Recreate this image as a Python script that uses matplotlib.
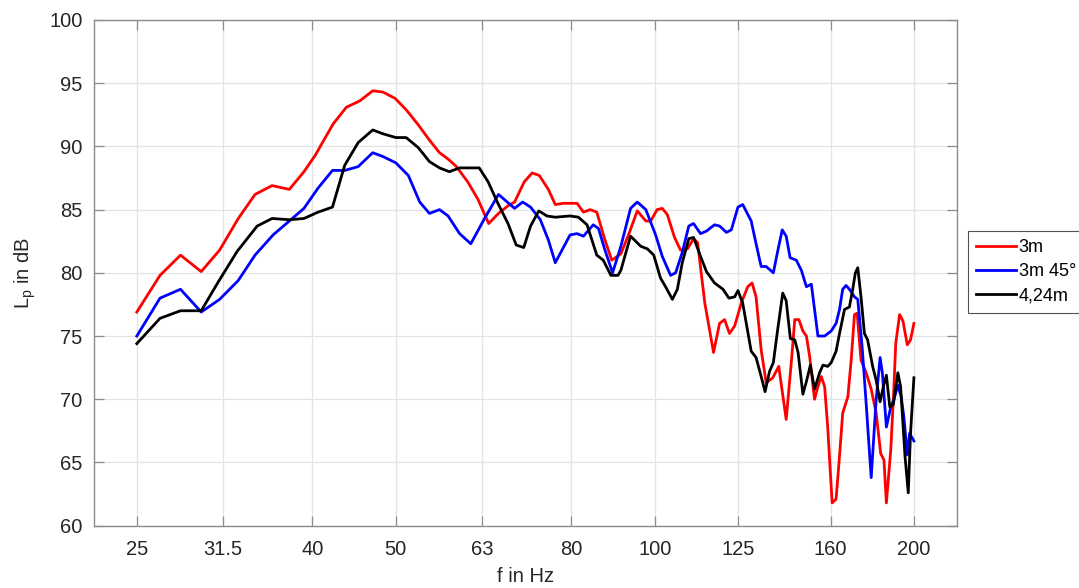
import matplotlib
matplotlib.use("Agg")
import matplotlib.pyplot as plt
from matplotlib.ticker import FixedLocator, FixedFormatter, NullLocator

# sound pressure level over frequency, three measuring positions

f_3m = [25.0, 26.6, 28.1, 29.7, 31.2, 32.8, 34.3, 35.9, 37.6, 39.1, 40.3, 41.4, 42.3, 43.8,
        45.4, 47.0, 48.3, 49.9, 51.4, 53.1, 54.7, 56.2, 57.5, 58.8, 60.6, 62.3, 64.1, 65.8,
        67.5, 68.7, 70.5, 72.0, 73.4, 75.2, 76.6, 78.3, 81.2, 82.6, 84.1, 85.6, 87.5, 89.1,
        91.3, 93.3, 95.4, 97.6, 98.9, 100.6, 102.0, 103.4, 105.4, 107.1, 109.1, 110.9, 112.1,
        114.3, 117.0, 118.9, 120.5, 122.1, 123.8, 126.0, 128.2, 129.7, 131.1, 132.9, 134.7,
        137.1, 139.3, 142.1, 144.1, 145.4, 147.0, 148.6, 150.0, 151.3, 153.3, 154.7, 156.1,
        157.5, 158.8, 160.7, 162.4, 163.9, 165.3, 167.6, 169.1, 170.6, 171.8, 173.6, 176.0,
        178.4, 180.8, 183.0, 184.6, 185.8, 188.0, 189.6, 190.5, 192.5, 194.2, 196.5, 198.2, 200.0]
L_3m = [76.9, 79.8, 81.4, 80.1, 81.8, 84.3, 86.2, 86.9, 86.6, 88.0, 89.3, 90.7, 91.8, 93.1,
        93.6, 94.4, 94.3, 93.8, 92.9, 91.7, 90.5, 89.5, 89.0, 88.4, 87.2, 85.8, 83.9, 84.7,
        85.3, 85.6, 87.2, 87.9, 87.7, 86.6, 85.4, 85.5, 85.5, 84.8, 85.0, 84.8, 82.6, 81.0,
        81.5, 83.1, 84.9, 84.1, 84.1, 85.0, 85.1, 84.6, 82.8, 81.8, 81.9, 82.7, 82.4,
        77.6, 73.7, 76.0, 76.3, 75.2, 75.8, 77.6, 78.9, 79.2, 78.1, 73.9, 71.3,
        71.7, 72.6, 68.4, 73.0, 76.3, 76.3, 75.4, 75.0, 73.4, 70.0, 71.0, 71.8,
        71.0, 67.8, 61.8, 62.1, 65.5, 68.9, 70.2, 73.1, 76.7, 76.8, 73.1, 72.1,
        70.8, 68.9, 65.7, 65.2, 61.8, 66.0, 71.0, 74.4, 76.7, 76.2, 74.3, 74.7, 76.0]

f_3m45 = [25.0, 26.6, 28.1, 29.7, 31.2, 32.8, 34.3, 36.0, 37.6, 39.1, 40.6, 42.2, 43.6, 45.2,
          47.0, 48.3, 50.0, 51.7, 53.3, 54.7, 56.2, 57.5, 59.3, 61.1, 63.4, 65.8, 68.7, 70.2,
          71.7, 73.6, 75.2, 76.6, 79.7, 81.2, 82.6, 84.8, 86.0, 87.5, 89.3, 91.3, 93.7, 95.4,
          97.6, 100.2, 102.0, 104.3, 105.7, 107.6, 109.5, 110.9, 113.0, 114.8, 117.3, 118.9,
          121.1, 122.7, 124.9, 126.5, 129.4, 131.1, 132.9, 134.7, 137.3, 138.9, 140.6, 142.1,
          143.6, 146.0, 148.0, 150.0, 152.0, 154.7, 157.5, 160.3, 162.4, 163.9, 165.3, 166.8,
          168.3, 170.6, 172.1, 174.1, 176.0, 178.4, 180.8, 182.7, 183.8, 185.8, 188.0, 189.6,
          191.6, 193.3, 194.7, 196.5, 197.7, 200.0]
L_3m45 = [75.0, 78.0, 78.7, 76.9, 77.9, 79.4, 81.4, 83.0, 84.1, 85.1, 86.7, 88.1, 88.1, 88.4,
          89.5, 89.2, 88.7, 87.7, 85.6, 84.7, 85.0, 84.5, 83.1, 82.3, 84.3, 86.2, 85.1, 85.6,
          85.2, 84.2, 82.6, 80.8, 83.0, 83.1, 82.9, 83.8, 83.5, 81.8, 80.0, 82.1, 85.1, 85.6,
          85.0, 83.0, 81.3, 79.8, 80.0, 81.6, 83.7, 83.9, 83.1, 83.3, 83.8, 83.7,
          83.2, 83.4, 85.2, 85.4, 84.1, 82.3, 80.5, 80.5, 80.0, 81.7, 83.4, 82.9,
          81.2, 81.0, 80.2, 78.9, 79.1, 75.0, 75.0, 75.4, 76.0, 77.1, 78.7, 79.0,
          78.7, 78.1, 77.9, 74.2, 69.7, 63.8, 70.0, 73.3, 72.1, 67.8, 69.4, 70.0,
          71.1, 70.2, 68.6, 65.6, 67.3, 66.7]

f_424m = [25.0, 26.6, 28.1, 29.7, 31.1, 32.7, 34.5, 35.9, 37.6, 39.1, 40.6, 42.2, 43.6, 45.2,
          47.0, 48.3, 50.0, 51.4, 53.1, 54.7, 56.2, 57.7, 59.3, 62.5, 64.0, 65.7, 67.5, 69.0,
          70.4, 71.7, 73.3, 74.9, 76.6, 79.7, 81.5, 83.4, 85.6, 87.1, 88.9, 90.6, 91.3, 93.7,
          96.3, 98.0, 99.7, 101.5, 102.9, 104.8, 106.2, 107.6, 109.5, 110.9, 113.0, 114.8,
          117.3, 120.0, 121.9, 123.8, 124.9, 126.5, 129.4, 131.1, 132.9, 134.3, 135.9, 137.3,
          138.9, 140.8, 142.1, 143.7, 145.4, 146.7, 148.6, 150.0, 151.6, 153.3, 155.4, 156.8,
          158.8, 160.3, 162.4, 163.9, 166.1, 168.3, 169.8, 171.0, 172.1, 173.6, 175.2, 176.7,
          179.1, 180.8, 182.7, 184.3, 185.8, 187.5, 189.3, 191.6, 193.0, 195.3, 197.0, 198.2, 200.0]
L_424m = [74.4, 76.4, 77.0, 77.0, 79.3, 81.7, 83.7, 84.3, 84.2, 84.3, 84.8, 85.2, 88.5, 90.3,
          91.3, 91.0, 90.7, 90.7, 89.9, 88.8, 88.3, 88.0, 88.3, 88.3, 87.2, 85.5, 83.9, 82.2,
          82.0, 83.7, 84.9, 84.5, 84.4, 84.5, 84.4, 83.8, 81.4, 81.0, 79.8, 79.8, 80.2, 82.9,
          82.1, 81.9, 81.4, 79.6, 78.9, 77.9, 78.7, 80.8, 82.7, 82.8, 81.3, 80.1,
          79.2, 78.7, 78.0, 78.1, 78.6, 77.6, 73.8, 73.3, 71.8, 70.6, 72.2, 72.9,
          75.5, 78.4, 77.8, 74.8, 74.7, 73.7, 70.4, 71.4, 72.7, 70.8, 72.1, 72.7,
          72.6, 72.9, 73.8, 75.2, 77.1, 77.3, 78.7, 80.0, 80.4, 78.1, 75.2, 74.7,
          72.6, 71.5, 69.8, 71.0, 71.9, 69.4, 69.6, 72.1, 71.0, 65.5, 62.6, 67.3, 71.7]

xticks = [25, 31.5, 40, 50, 63, 80, 100, 125, 160, 200]
xticklabels = ["25", "31.5", "40", "50", "63", "80", "100", "125", "160", "200"]
yticks = [60, 65, 70, 75, 80, 85, 90, 95, 100]

plt.rcParams["font.family"] = ["Liberation Sans", "DejaVu Sans"]

fig = plt.figure(figsize=(10.79, 5.88), dpi=100)
ax = fig.add_axes([0.0868, 0.106, 0.8002, 0.860])

ax.plot(f_3m, L_3m, color="#ff0000", lw=2.0, label="3m")
ax.plot(f_3m45, L_3m45, color="#0000ff", lw=2.0, label="3m 45°")
ax.plot(f_424m, L_424m, color="#000000", lw=2.0, label="4,24m")

ax.set_xscale("log")
ax.set_xlim(25 / 2 ** (1 / 6), 200 * 2 ** (1 / 6))
ax.set_ylim(60, 100)
ax.xaxis.set_major_locator(FixedLocator(xticks))
ax.xaxis.set_major_formatter(FixedFormatter(xticklabels))
ax.xaxis.set_minor_locator(NullLocator())
ax.set_yticks(yticks)

ax.grid(True, color="#e3e3e3", lw=0.9)
ax.set_axisbelow(True)
for s in ax.spines.values():
    s.set_color("#8c8c8c")
    s.set_linewidth(1.0)
ax.tick_params(which="both", direction="in", length=7, width=0.9, color="#8c8c8c",
               top=True, right=True, labelsize=14.5, labelcolor="#262626")
ax.tick_params(axis="x", pad=10)
ax.tick_params(axis="y", pad=8)

ax.set_xlabel("f in Hz", fontsize=14.5, color="#262626", labelpad=6)
ax.set_ylabel("L$_\\mathregular{p}$ in dB", fontsize=14.5, color="#262626", labelpad=8)

leg = fig.legend(loc="upper left", bbox_to_anchor=(968 / 1079, 1 - 231 / 588),
                 fontsize=13, frameon=True, fancybox=False, handlelength=2.2,
                 handletextpad=0.15, borderpad=0.45, labelspacing=0.4, borderaxespad=0)
leg.get_frame().set_edgecolor("#262626")
leg.get_frame().set_linewidth(0.8)

fig.savefig("out.png", dpi=100)
